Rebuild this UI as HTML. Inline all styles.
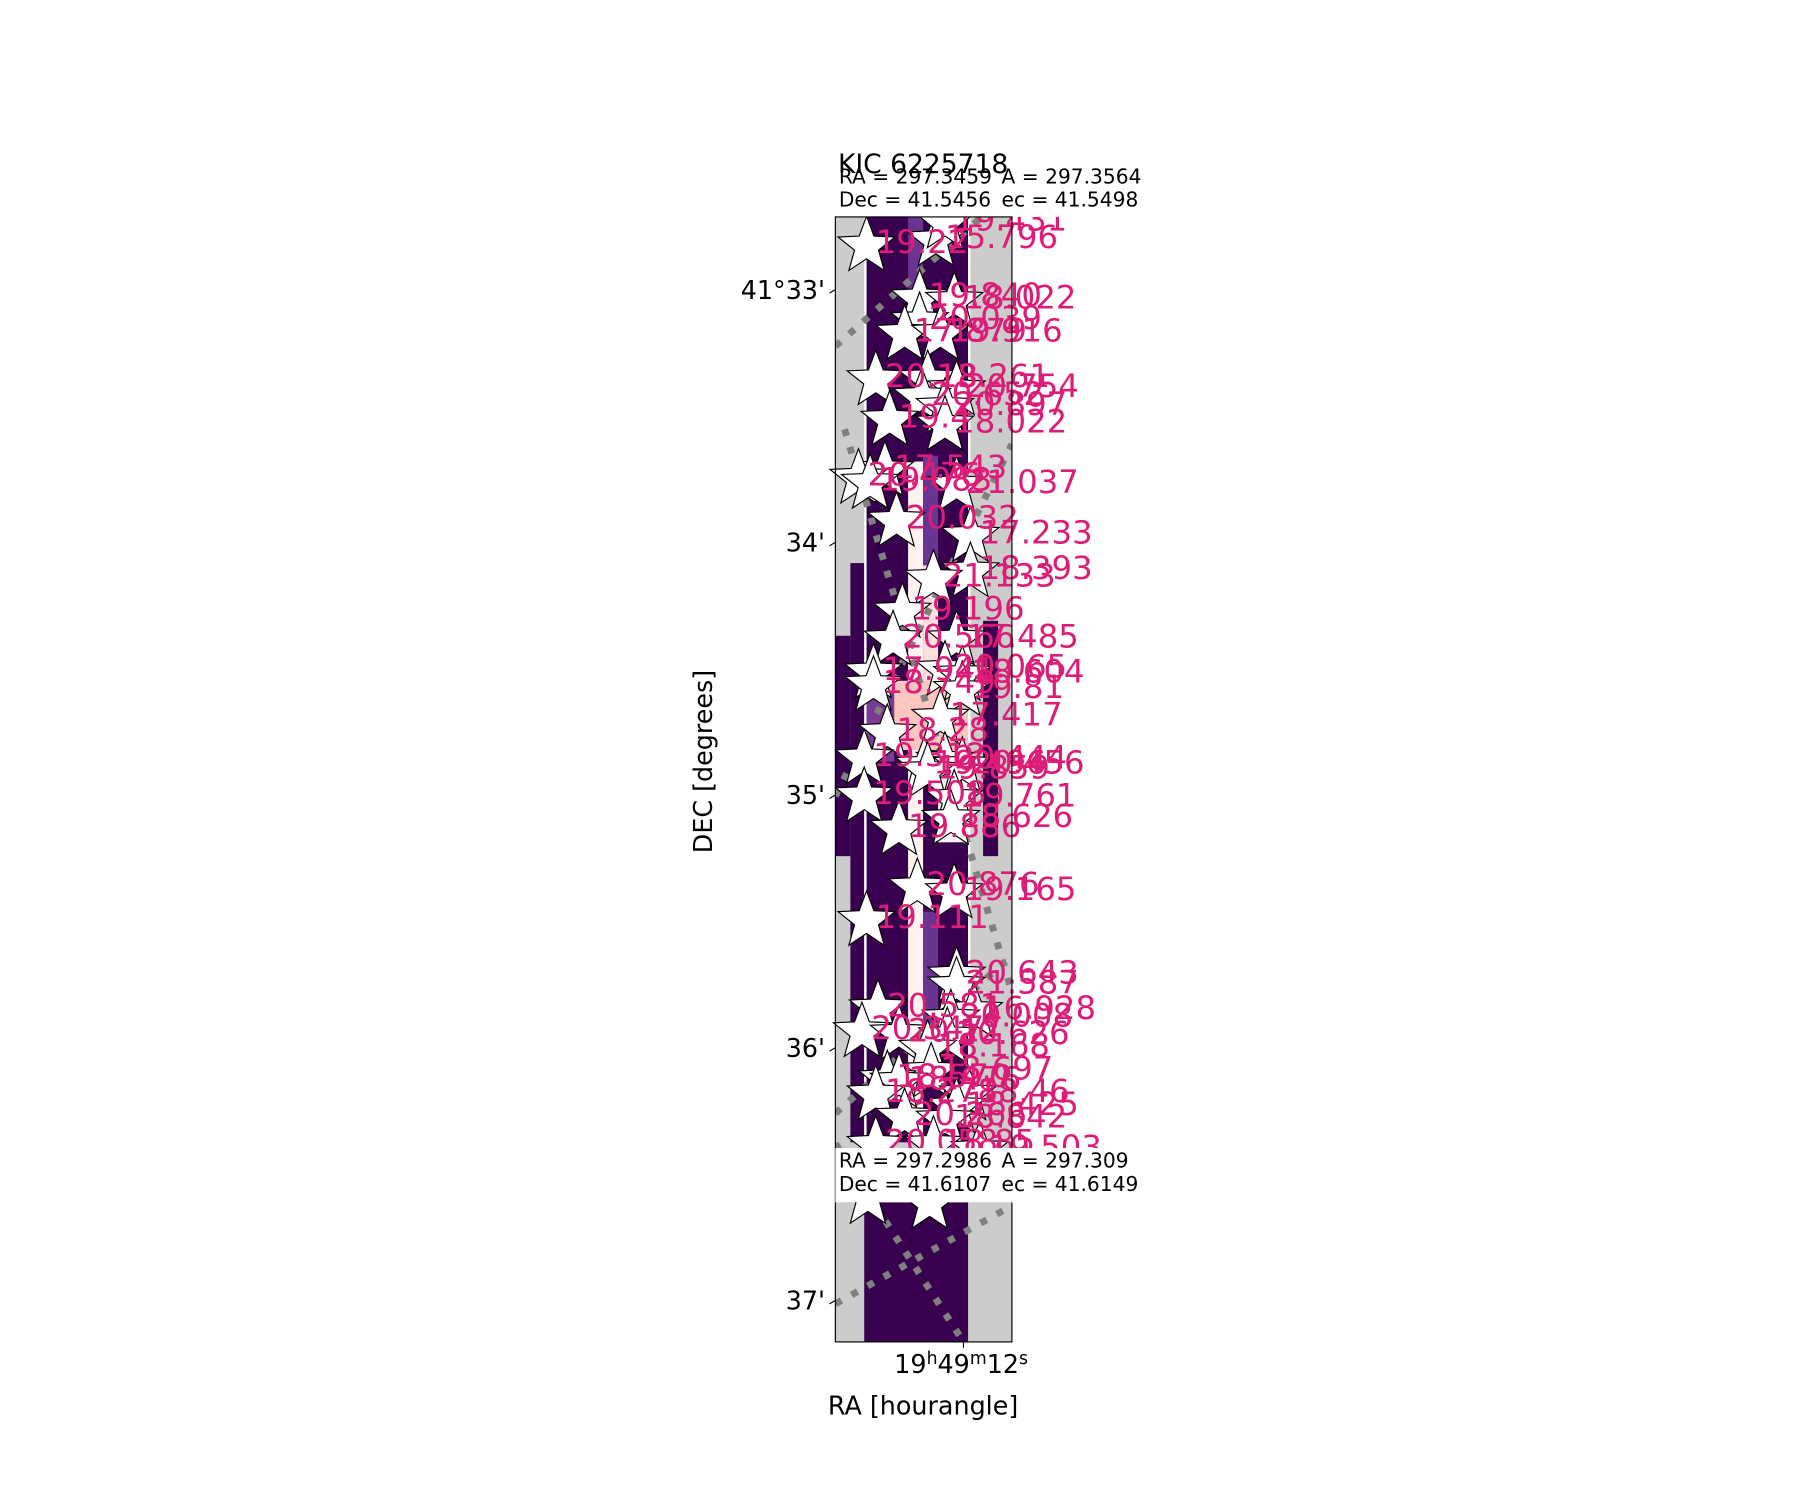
<!DOCTYPE html>
<html><head><meta charset="utf-8"><style>
html,body{margin:0;padding:0;background:#fff}
svg text{font-family:"DejaVu Sans","Liberation Sans",sans-serif}
</style></head><body>
<svg id="chart" width="1800" height="1500" viewBox="3 0 1560 1300" xmlns="http://www.w3.org/2000/svg">
<defs><clipPath id="ax"><rect x="0" y="188" width="1570" height="975"/></clipPath>
<clipPath id="axi"><rect x="727" y="188" width="153" height="975"/></clipPath></defs>
<rect x="0" width="1570" height="1300" fill="#fff"/>
<g id="img" clip-path="url(#axi)">
<rect x="727" y="188" width="153" height="975" fill="#cccccc"/>
<rect x="740" y="488" width="12" height="502" fill="#3a0050"/>
<rect x="727" y="551" width="13" height="191" fill="#3a0050"/>
<rect x="754" y="188" width="88" height="802" fill="#3a0050"/>
<rect x="855" y="538" width="13" height="204" fill="#3a0050"/>
<rect x="790" y="188" width="13" height="67" fill="#6a3590"/>
<rect x="790" y="400" width="13" height="590" fill="#fff2f0"/>
<rect x="803" y="395" width="13" height="95" fill="#6a3590"/>
<rect x="803" y="790" width="13" height="110" fill="#6a3590"/>
<rect x="803" y="490" width="13" height="150" fill="#fde0dd"/>
<rect x="765" y="590" width="77" height="60" fill="#fcc5c0"/>
<rect x="754" y="600" width="24" height="60" fill="#7a3a96"/>
<rect x="816" y="650" width="26" height="80" fill="#fff2f0"/>
<rect x="752" y="188" width="2" height="802" fill="#fff"/>
<rect x="842" y="188" width="2" height="802" fill="#fff"/>
<rect x="752" y="1042" width="90" height="121" fill="#3a0050"/>
</g>
<g id="grid" clip-path="url(#axi)" stroke="#808080" stroke-width="6" stroke-dasharray="6 10" fill="none">
<line x1="727" y1="300" x2="880" y2="165"/>
<line x1="735" y1="372" x2="880" y2="860"/>
<line x1="727" y1="690" x2="880" y2="385"/>
<line x1="727" y1="965" x2="880" y2="828"/>
<line x1="727" y1="991" x2="880" y2="1228"/>
<line x1="727" y1="1130" x2="880" y2="1045"/>
</g>
<g id="stars" clip-path="url(#ax)"></g>
<rect x="727" y="188" width="153" height="975" fill="none" stroke="#000" stroke-width="1"/>
<g>
<rect x="727" y="995" width="268" height="47" fill="#fff"/>
<text x="730" y="1012" font-size="17.5">RA = 297.2986</text>
<text x="871" y="1012" font-size="17.5">A = 297.309</text>
<text x="730" y="1032" font-size="17.5">Dec = 41.6107</text>
<text x="871" y="1032" font-size="17.5">ec = 41.6149</text>
</g>
<g>
<text x="730" y="159" font-size="17.5">RA = 297.3459</text>
<text x="871" y="159" font-size="17.5">A = 297.3564</text>
<text x="730" y="179" font-size="17.5">Dec = 41.5456</text>
<text x="871" y="179" font-size="17.5">ec = 41.5498</text>
</g>
<text x="803" y="150" font-size="23" text-anchor="middle">KIC 6225718</text>
<g id="yticks"></g>
<line x1="838" y1="1163" x2="838" y2="1168" stroke="#000"/>
<text x="836" y="1190" font-size="22" text-anchor="middle">19<tspan font-size="15" dy="-8">h</tspan><tspan dy="8">49</tspan><tspan font-size="15" dy="-8">m</tspan><tspan dy="8">12</tspan><tspan font-size="15" dy="-8">s</tspan></text>
<text x="803" y="1226" font-size="22" text-anchor="middle">RA [hourangle]</text>
<text transform="translate(620,660) rotate(-90)" font-size="22" text-anchor="middle">DEC [degrees]</text>
</svg>
<script>
// Star catalogue: magnitude labels, column (image pixel units), dec (arcmin past 41°)
const mags = ["19.22","15.796","19.431","19.840","18.022","20.039","17.879","19.916","20.13","18.261","20.754","20.652","20.897","19.4","18.022","17.543","20.476","19.083","21.037","20.032","17.233","18.393","21.133","19.196","20.566","17.485","17.941","20.065","18.604","18.749","19.81","17.417","18.28","19.312","20.444","19.496","20.456","19.859","19.508","19.761","18.626","19.886","20.876","19.165","19.111","20.643","21.587","20.581","16.928","20.008","20.347","20.12","20.626","18.168","18.697","18.570","18.476","18.46","18.278","18.425","20.266","18.842","20.058","18.85","19.503","",""];
const cols = [2.51,7.22,7.84,6.12,8.47,6.12,5.10,7.53,3.14,6.67,8.63,6.27,7.84,4.08,7.84,3.76,1.96,2.75,8.63,4.55,9.57,9.57,7.06,4.94,4.31,8.63,2.98,7.84,9.02,2.98,9.02,7.53,3.92,2.35,7.84,6.43,9.02,6.67,2.35,8.47,8.24,4.71,5.96,8.47,2.51,8.63,8.63,3.29,9.80,8.24,2.20,4.71,8.00,6.67,6.90,3.92,4.71,9.41,3.14,8.63,5.10,7.84,3.14,7.06,10.2,2.6,6.8];
const decs = [32.81,32.79,32.72,33.02,33.03,33.11,33.16,33.16,33.34,33.34,33.38,33.41,33.45,33.50,33.52,33.70,33.73,33.75,33.76,33.90,33.96,34.10,34.13,34.26,34.37,34.37,34.50,34.49,34.51,34.55,34.57,34.68,34.74,34.84,34.85,34.87,34.87,34.89,34.99,35.00,35.08,35.12,35.35,35.37,35.48,35.70,35.74,35.83,35.84,35.87,35.92,35.93,35.94,35.99,36.08,36.11,36.12,36.17,36.17,36.22,36.26,36.27,36.37,36.37,36.39,36.58,36.60];
const yTickVals = [33,34,35,36,37];
const yTickLabels = ["41°33'","34'","35'","36'","37'"];

function xScale(c){return 730 + c*12.75;}
function yScale(d){return 251 + (d-33)*219;}

const NS="http://www.w3.org/2000/svg";
const gs=document.getElementById('stars');
function starPts(cx,cy,R){const r=R*0.42;let p=[];for(let i=0;i<10;i++){const a=-Math.PI/2+i*Math.PI/5;const rr=i%2?r:R;p.push((cx+rr*Math.cos(a)).toFixed(1)+","+(cy+rr*Math.sin(a)).toFixed(1));}return p.join(" ");}
for(let i=0;i<mags.length;i++){
  const x=xScale(cols[i]), y=yScale(decs[i]);
  const s=document.createElementNS(NS,'polygon');
  s.setAttribute('points',starPts(x-8,y+4,26));
  s.setAttribute('fill','#fff');s.setAttribute('stroke','#000');s.setAttribute('stroke-width','1');
  
  
  gs.appendChild(s);
}
for(let i=0;i<mags.length;i++){
  const x=xScale(cols[i]), y=yScale(decs[i]);
  const t=document.createElementNS(NS,'text');
  t.setAttribute('x',x);t.setAttribute('y',y+10);
  t.setAttribute('font-size','28');t.setAttribute('fill','#dd1c77');
  t.textContent=mags[i];
  
  
  gs.appendChild(t);
}
const gy=document.getElementById('yticks');
for(let i=0;i<yTickVals.length;i++){
  const y=yScale(yTickVals[i]);
  const l=document.createElementNS(NS,'line');
  l.setAttribute('x1',722);l.setAttribute('x2',727);l.setAttribute('y1',y+3);l.setAttribute('y2',y);
  l.setAttribute('stroke','#000');
  
  
  gy.appendChild(l);
  const t=document.createElementNS(NS,'text');
  t.setAttribute('x',718);t.setAttribute('y',y+8);t.setAttribute('font-size','22');t.setAttribute('text-anchor','end');
  t.textContent=yTickLabels[i];
  
  
  gy.appendChild(t);
}
</script>
</body></html>
